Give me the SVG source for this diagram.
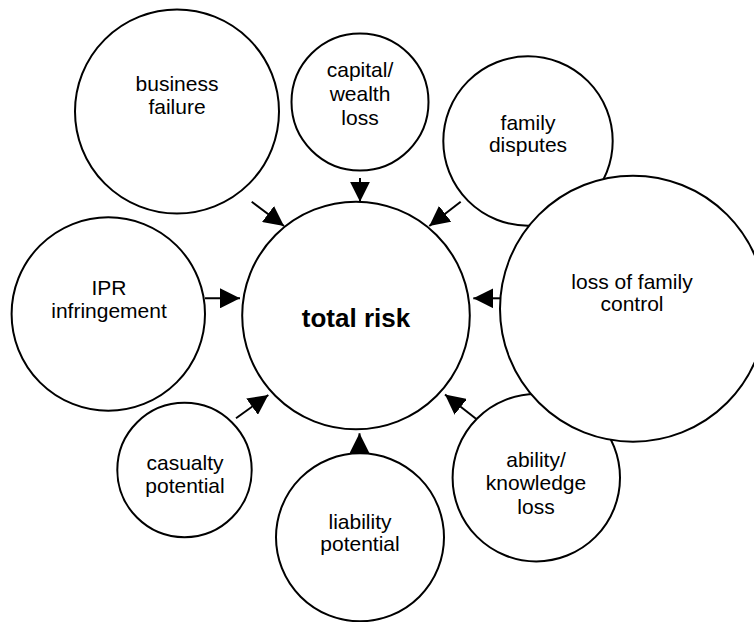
<svg xmlns="http://www.w3.org/2000/svg" width="754" height="622" viewBox="0 0 754 622">
<style>
.n{fill:#fff;stroke:#000;stroke-width:2}
.t{font-family:"Liberation Sans",Arial,sans-serif;font-size:21px;fill:#000;text-anchor:middle}
.b{font-weight:bold;font-size:26px}
.c{stroke:#000;stroke-width:2;fill:none;marker-end:url(#ah)}
</style>
<defs>
<marker id="ah" markerUnits="userSpaceOnUse" markerWidth="20" markerHeight="20" refX="20" refY="10" orient="auto" viewBox="0 0 20 20">
<path d="M0,0 L20,10 L0,20 z" fill="#000"/>
</marker>
</defs>
<rect width="754" height="622" fill="#fff"/>
<g id="business-failure"><circle class="n" cx="177" cy="111.5" r="102"/><text class="t" x="177" y="90.5">business</text><text class="t" x="177" y="113.5">failure</text></g>
<g id="capital-wealth-loss"><circle class="n" cx="360" cy="102" r="68.5"/><text class="t" x="360" y="77">capital/</text><text class="t" x="360" y="101">wealth</text><text class="t" x="360" y="125">loss</text></g>
<g id="family-disputes"><circle class="n" cx="528" cy="141" r="84.7"/><text class="t" x="528" y="130">family</text><text class="t" x="528" y="152">disputes</text></g>
<g id="ability-knowledge-loss"><circle class="n" cx="536.3" cy="477.7" r="83.7"/><text class="t" x="536" y="466.7">ability/</text><text class="t" x="536" y="490">knowledge</text><text class="t" x="536" y="514">loss</text></g>
<g id="loss-of-family-control"><circle class="n" cx="633" cy="308.7" r="133"/><text class="t" x="632" y="288.5">loss of family</text><text class="t" x="632" y="310.5">control</text></g>
<g id="ipr-infringement"><circle class="n" cx="108.3" cy="314" r="96.7"/><text class="t" x="109" y="295">IPR</text><text class="t" x="109" y="318">infringement</text></g>
<g id="total-risk"><circle class="n" cx="356" cy="315.5" r="113.8"/><text class="t b" x="356" y="326.5">total risk</text></g>
<g id="casualty-potential"><circle class="n" cx="184.5" cy="470" r="67.2"/><text class="t" x="185" y="470">casualty</text><text class="t" x="185" y="493">potential</text></g>
<g id="liability-potential"><circle class="n" cx="360" cy="537.3" r="84"/><text class="t" x="360" y="528.5">liability</text><text class="t" x="360" y="551">potential</text></g>
<g id="connectors">
<line class="c" x1="251.7" y1="201.7" x2="284" y2="226"/>
<line class="c" x1="360" y1="178" x2="360" y2="201.7"/>
<line class="c" x1="460.7" y1="201.7" x2="429.3" y2="226"/>
<line class="c" x1="205" y1="298.3" x2="240" y2="298.3"/>
<line class="c" x1="500" y1="298.3" x2="473.3" y2="298.3"/>
<line class="c" x1="236" y1="418.3" x2="268.3" y2="395"/>
<line class="c" x1="476" y1="418.8" x2="445" y2="394.5"/>
<line class="c" x1="359.5" y1="453.3" x2="359.5" y2="433.3"/>
</g>
</svg>
